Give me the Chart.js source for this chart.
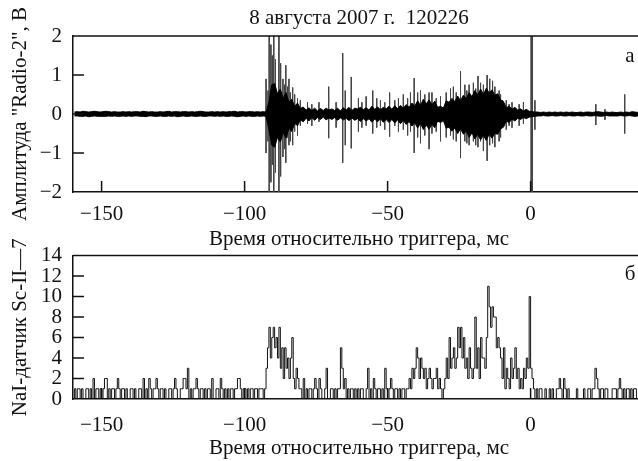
<!DOCTYPE html>
<html>
<head>
<meta charset="utf-8">
<script src="https://cdn.jsdelivr.net/npm/chart.js@4.4.0/dist/chart.umd.min.js"></script>
<style>
  body { margin: 0; width: 638px; height: 461px; overflow: hidden; background: #fff; position: relative; }
  canvas { position: absolute; left: 0; }
  #radio { top: 0; }
  #nai { top: 232px; }
</style>
</head>
<body>
<canvas id="radio" width="660" height="252"></canvas>
<canvas id="nai" width="660" height="229"></canvas>
<script>
const serif = "'Liberation Serif', 'Times New Roman', serif";
Chart.defaults.font.family = serif;
Chart.defaults.font.size = 21;
Chart.defaults.color = "#111";

// Time axis, ms relative to trigger
const xMin = -160, xMax = 40;
const xTicks = [-150, -100, -50, 0];

// Radio-2 signal envelope, 1 ms per value, hundredths of a volt
const radioUp = [
    5, 6, 5, 7, 6, 5, 6, 7, 6, 5,
    6, 7, 6, 5, 6, 5, 5, 6, 5, 6,
    5, 6, 6, 5, 7, 6, 5, 6, 5, 5,
    6, 5, 6, 7, 5, 6, 6, 5, 6, 6,
    5, 6, 5, 6, 7, 6, 5, 5, 6, 5,
    6, 5, 6, 5, 6, 6, 7, 5, 6, 6,
    5, 6, 6, 5, 6, 5, 6, 5, 30, 75,
    78, 52, 64, 40, 55, 30, 38, 20, 28, 14,
    18, 10, 16, 9, 15, 8, 14, 9, 15, 10,
    13, 9, 15, 8, 16, 10, 17, 9, 15, 13,
    17, 11, 16, 10, 20, 12, 18, 11, 17, 13,
    20, 12, 21, 14, 22, 15, 24, 17, 28, 20,
    34, 22, 38, 26, 36, 24, 33, 17, 20, 15,
    34, 30, 40, 32, 46, 34, 48, 40, 55, 44,
    60, 48, 64, 50, 66, 54, 62, 48, 52, 36,
    32, 16, 20, 12, 17, 10, 13, 8, 12, 7,
    6, 5, 5, 4, 5, 4, 5, 4, 5, 4,
    5, 4, 5, 4, 5, 4, 4, 5, 4, 5,
    5, 4, 5, 6, 5, 4, 5, 4, 5, 4,
    4, 5, 4, 5, 4, 6, 5, 4, 5, 4
];
const radioDown = [
    5, 5, 6, 6, 5, 7, 6, 5, 6, 6,
    6, 6, 5, 6, 5, 6, 6, 5, 6, 5,
    6, 5, 5, 6, 6, 7, 5, 5, 6, 6,
    5, 6, 6, 5, 6, 5, 7, 6, 5, 6,
    6, 5, 6, 6, 5, 6, 6, 5, 5, 6,
    5, 6, 5, 6, 6, 5, 6, 7, 6, 5,
    6, 5, 6, 6, 5, 6, 5, 6, 40, 80,
    85, 60, 72, 48, 62, 36, 45, 24, 30, 15,
    20, 11, 18, 9, 16, 9, 14, 8, 15, 10,
    14, 9, 16, 10, 15, 11, 17, 10, 16, 12,
    19, 12, 18, 12, 21, 13, 20, 12, 21, 14,
    22, 14, 23, 15, 25, 16, 27, 19, 31, 22,
    36, 24, 40, 28, 39, 26, 35, 18, 22, 17,
    36, 34, 44, 36, 50, 38, 52, 44, 60, 48,
    64, 52, 66, 55, 68, 52, 62, 50, 52, 38,
    34, 18, 22, 13, 18, 11, 14, 9, 12, 8,
    7, 6, 5, 5, 4, 5, 5, 4, 5, 5,
    4, 5, 5, 4, 5, 5, 4, 5, 5, 4,
    5, 5, 4, 5, 6, 5, 4, 5, 5, 5,
    5, 4, 5, 5, 4, 5, 6, 5, 4, 5
];

// Single spikes: [time, ms; positive peak, V; negative peak, V]
const radioSpikes = [
    [-92.5, 0.9, -1.0], [-91.8, 0.6, -0.7], [-91.4, 2.5, -2.5], [-90.8, 1.78, -1.75],
    [-90.3, 1.5, -1.3], [-89.8, 2.5, -2.5], [-89.2, 1.4, -1.5], [-88.0, 2.5, -2.5],
    [-87.4, 1.3, -1.6], [-86.6, 0.9, -1.1], [-86.0, 0.75, -0.9], [-85.6, 1.25, -1.25],
    [-85.0, 0.7, -0.6], [-84.5, 0.9, -0.8], [-84.0, 0.55, -0.7], [-83.2, 0.68, -0.8],
    [-82.5, 0.5, -0.45], [-81.5, 0.4, -0.55], [-80.5, 0.35, -0.3], [-78.0, 0.3, -0.25],
    [-76.5, 0.25, -0.3], [-74.0, 0.3, -0.2], [-70.6, 0.7, -0.62], [-68.0, 0.3, -0.35],
    [-65.7, 1.56, -1.25], [-64.8, 0.6, -0.8], [-62.7, 0.95, -0.88], [-60.2, 0.4, -0.45],
    [-59.0, 0.3, -0.35], [-57.5, 0.45, -0.3], [-55.2, 0.6, -0.5], [-53.8, 0.4, -0.35],
    [-52.5, 0.35, -0.3], [-51.0, 0.3, -0.4], [-49.3, 0.55, -0.58], [-47.5, 0.35, -0.3],
    [-46.2, 0.4, -0.45], [-44.5, 0.5, -0.4], [-43.0, 0.4, -0.55], [-42.0, 0.55, -0.45],
    [-40.7, 0.92, -1.0], [-39.5, 0.55, -0.6], [-38.5, 0.6, -0.75], [-37.0, 0.5, -0.55],
    [-35.5, 0.55, -0.9], [-34.5, 0.55, -0.5], [-33.0, 0.4, -0.45], [-31.5, 0.45, -0.7],
    [-29.5, 0.55, -0.6], [-28.0, 0.65, -0.55], [-27.0, 0.7, -0.65], [-26.0, 0.55, -0.7],
    [-24.5, 1.1, -1.13], [-23.0, 0.75, -0.7], [-22.3, 0.6, -0.75], [-21.5, 0.75, -0.8],
    [-20.0, 0.8, -0.7], [-19.2, 0.65, -0.8], [-18.4, 0.97, -0.85], [-17.5, 0.8, -0.7],
    [-16.5, 0.75, -0.95], [-15.2, 1.0, -1.2], [-14.3, 0.9, -0.8], [-13.3, 0.85, -0.75],
    [-12.5, 0.7, -0.85], [-11.0, 0.6, -0.7], [-10.5, 0.5, -0.6], [-9.8, 0.35, -0.3],
    [-8.5, 0.35, -0.4], [-7.5, 0.25, -0.3], [-6.5, 0.3, -0.35], [-4.0, 0.25, -0.3],
    [-2.5, 0.3, -0.25], [0.2, 2.5, -2.5], [0.6, 2.5, -2.5], [1.5, 0.35, -0.4],
    [22.8, 0.25, -0.28], [26.0, 0.12, -0.15], [32.9, 0.5, -0.5]
];

// NaI Sc-II-7 counts, 0.5 ms bins, one hex digit per bin, 10 ms per row
const naiRows = [
    "00101101001101020110", // -160
    "10122010110121011010", // -150
    "01101001102010210112", // -140
    "10110100110121001122", // -130
    "13010112101101011020", // -120
    "01102101010110112210", // -110
    "11010110110111013574", // -100
    "67564735253424621321", // -90
    "10201011012102100130", // -80
    "01101011531201011010", // -70
    "10110013010210110103", // -60
    "10121011010110112132", // -50
    "35424323123212231210", // -40
    "12426345347574634253", // -30
    "23835264436b97988565", // -20
    "42513214235231213243", // -10
    "a3210101100100101001", // 0
    "12102101000001000010", // 10
    "01101132101101100011", // 20
    "10121010110101100000"  // 30
];
const naiBin = 0.5;

// Envelope band: upper and lower edge per 1 ms bin, filled between
const radioUpper = radioUp.map((u, i) => ({ x: xMin + i + 0.5, y: u / 100 }));
const radioLower = radioDown.map((d, i) => ({ x: xMin + i + 0.5, y: -d / 100 }));

const spikePoints = [];
radioSpikes.forEach(([t, up, down]) => {
    spikePoints.push({ x: t, y: up }, { x: t, y: down }, { x: t, y: null });
});

const naiCounts = naiRows.join("").split("").map(c => parseInt(c, 16));
const naiPoints = naiCounts.map((c, i) => ({ x: xMin + i * naiBin, y: c }));

const fmt = v => (v < 0 ? "\u2212" + Math.abs(v) : String(v));

// Top frame line, inward tick marks and the panel letter
const frame = {
    id: "frame",
    afterDatasetsDraw(chart, args, opts) {
        const { ctx, chartArea: a, scales: { x, y } } = chart;
        ctx.save();
        ctx.strokeStyle = "#111";
        ctx.lineWidth = 1.5;
        ctx.beginPath();
        ctx.moveTo(a.left, a.top);
        ctx.lineTo(a.right, a.top);
        xTicks.forEach(v => {
            const px = x.getPixelForValue(v);
            ctx.moveTo(px, a.bottom);
            ctx.lineTo(px, a.bottom - 11);
        });
        opts.yTicks.forEach(v => {
            const py = y.getPixelForValue(v);
            ctx.moveTo(a.left, py);
            ctx.lineTo(a.left + 11, py);
        });
        ctx.stroke();
        ctx.fillStyle = "#111";
        ctx.font = "21px " + serif;
        ctx.textAlign = "center";
        ctx.fillText(opts.letter, a.right - 15, a.top + opts.letterDy);
        ctx.restore();
    }
};

const xScale = (height, pad) => ({
    type: "linear",
    min: xMin,
    max: xMax,
    afterFit: s => { s.height = height; },
    afterBuildTicks: s => { s.ticks = xTicks.map(v => ({ value: v })); },
    ticks: { autoSkip: false, padding: pad, maxRotation: 0, callback: fmt },
    grid: { display: false, drawTicks: false },
    border: { color: "#111", width: 1.5 },
    title: { display: true, text: "Время относительно триггера, мс", padding: { top: 0, bottom: 0 } }
});

const yScale = (min, max, step, text) => ({
    min: min,
    max: max,
    afterFit: s => { s.width = 73; },
    ticks: { stepSize: step, autoSkip: false, padding: 11, callback: fmt },
    grid: { display: false, drawTicks: false },
    border: { color: "#111", width: 1.5 },
    title: { display: true, text: text, padding: { top: 8, bottom: 0 } }
});

new Chart(document.getElementById("radio"), {
    type: "line",
    plugins: [frame],
    data: {
        datasets: [
            { data: radioUpper, borderColor: "#000", backgroundColor: "#000", fill: "+1", borderWidth: 1, pointRadius: 0, tension: 0 },
            { data: radioLower, borderColor: "#000", borderWidth: 1, pointRadius: 0, tension: 0 },
            { data: spikePoints, borderColor: "#444", borderWidth: 1, pointRadius: 0, tension: 0 }
        ]
    },
    options: {
        responsive: false,
        animation: false,
        layout: { padding: { left: 0, right: 15, top: 0, bottom: 0 } },
        plugins: {
            legend: { display: false },
            tooltip: { enabled: false },
            title: {
                display: true,
                text: "8 августа 2007 г.  120226",
                fullSize: false,
                color: "#111",
                font: { size: 21, weight: "normal" },
                padding: { top: 6, bottom: 4.8 }
            },
            frame: { yTicks: [-1, 0, 1], letter: "а", letterDy: 26 }
        },
        scales: {
            x: xScale(60, 10),
            y: yScale(-2, 2, 1, "Амплитуда \"Radio-2\", В")
        }
    }
});

new Chart(document.getElementById("nai"), {
    type: "line",
    plugins: [frame],
    data: {
        datasets: [
            { data: naiPoints, borderColor: "#111", borderWidth: 1, pointRadius: 0, stepped: "after" }
        ]
    },
    options: {
        responsive: false,
        animation: false,
        layout: { padding: { left: 0, right: 15, top: 21, bottom: 0 } },
        plugins: {
            legend: { display: false },
            tooltip: { enabled: false },
            frame: { yTicks: [2, 4, 6, 8, 10, 12], letter: "б", letterDy: 24 }
        },
        scales: {
            x: xScale(62, 14),
            y: yScale(0, 14, 2, "NaI-датчик Sc-II\u20147")
        }
    }
});
</script>
</body>
</html>
